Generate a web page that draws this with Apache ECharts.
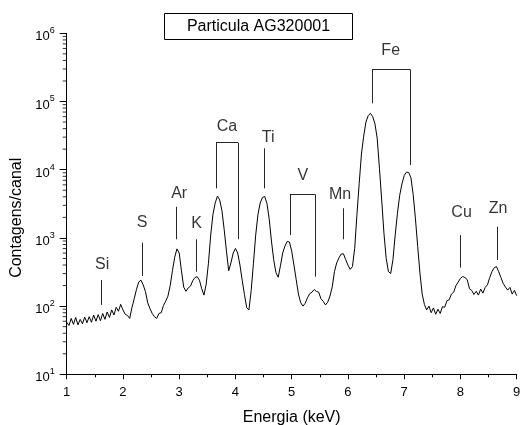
<!DOCTYPE html>
<html><head><meta charset="utf-8">
<script src="https://cdn.jsdelivr.net/npm/echarts@6/dist/echarts.min.js"></script>
<style>html,body{margin:0;padding:0;background:#fff}#c{width:521px;height:425px}</style>
</head><body><div id="c"></div>
<script>
// Spectrum: channel calibration (keV) and counts per channel
const energyStart = 1.0;
const energyStep = 0.04;
const counts = [
  58,52,66,54,68,53,64,55,69,57,70,58,74,60,75,61,78,64,82,68,88,74,96,84,106,
  88,76,73,66,95,128,175,225,240,205,163,112,92,78,70,66,78,80,102,118,140,200,330,520,690,
  600,330,190,165,185,196,235,262,270,240,180,145,210,425,1100,2200,3250,4100,3600,2500,1320,640,330,430,600,
  700,600,400,240,148,95,88,170,425,1100,2200,3250,3900,4050,3200,1900,900,480,310,265,390,600,760,890,870,
  640,400,245,150,112,100,110,132,152,160,175,164,160,128,118,104,114,140,190,320,430,510,580,585,480,
  400,345,380,700,2200,6300,17000,31000,50000,62000,67000,60000,47000,29000,10500,3600,1170,500,320,300,480,1100,2300,4200,6200,
  8200,9200,9100,7600,4300,1900,750,305,150,105,88,100,80,94,76,90,78,98,96,120,124,150,160,200,225,
  255,272,262,245,180,170,148,165,145,178,155,188,205,262,320,365,380,320,262,215,190,172,188,150,170,
  142
];
const xTicks = [1,2,3,4,5,6,7,8,9];
const yDecades = [10,100,1000,10000,100000,1000000];
const minorMultipliers = [2,3,4,5,6,7,8,9];

// Element annotations: label text, label position (keV, counts)
const peakNames  = ['Si','S','Ar','K','Ca','Ti','V','Mn','Fe','Cu','Zn'];
const peakLabelE = [1.63,2.34,3.00,3.31,3.85,4.58,5.20,5.86,6.76,8.02,8.67];
const peakLabelY = [400,1650,4400,1640,42700,29200,8100,4360,556000,2340,2720];
// Marker segments: [e1, y1, e2, y2]
const markerSegments = [
  [1.622,104,1.622,241],
  [2.344,276,2.344,851],
  [2.956,955,2.956,2860],
  [3.311,319,3.311,955],
  [3.654,5330,3.654,24900],[3.654,24900,4.045,24900],[4.045,24900,4.045,955],
  [4.508,5330,4.508,20600],
  [4.970,1100,4.970,4360],[4.970,4360,5.414,4360],[5.414,4360,5.414,270],
  [5.917,955,5.917,2720],
  [6.433,94200,6.433,296000],[6.433,296000,7.103,296000],[7.103,296000,7.103,11700],
  [7.992,366,7.992,1100],
  [8.655,474,8.655,1460]
];
const titleText = 'Particula AG320001';

const FONT = '"Liberation Sans", Arial, Helvetica, sans-serif';
const spectrum = counts.map((c, i) => [+(energyStart + i * energyStep).toFixed(2), c]);
const minorTicks = [];
yDecades.slice(0, -1).forEach(d => minorMultipliers.forEach(m => minorTicks.push([1, d * m])));

const chart = echarts.init(document.getElementById('c'), null, {renderer: 'canvas'});
chart.setOption({
  animation: false,
  backgroundColor: '#fff',
  textStyle: {fontFamily: FONT, color: '#000'},
  grid: {left: 66.7, right: 4.3, top: 33.3, bottom: 50.7, containLabel: false, outerBoundsMode: 'none'},
  graphic: [
    {type: 'rect', shape: {x: 164.5, y: 13.5, width: 188, height: 26},
     style: {fill: '#fff', stroke: '#000', lineWidth: 1}, z: 10},
    {type: 'text', x: 258.5, y: 27, z: 11,
     style: {text: titleText, font: '16px ' + FONT, fill: '#000', align: 'center', verticalAlign: 'middle'}}
  ],
  xAxis: {
    type: 'value', min: 1, max: 9, interval: 1,
    name: 'Energia (keV)', nameLocation: 'middle', nameGap: 35,
    nameTextStyle: {fontSize: 16, fontFamily: FONT, color: '#000'},
    axisLine: {show: true, onZero: false, lineStyle: {color: '#000', width: 1}},
    axisTick: {show: true, length: 5, lineStyle: {color: '#000', width: 1}},
    minorTick: {show: true, splitNumber: 2, length: 3, lineStyle: {color: '#000', width: 1}},
    axisLabel: {fontSize: 13, fontFamily: FONT, color: '#000', margin: 12,
      formatter: v => xTicks.includes(v) ? String(v) : ''},
    splitLine: {show: false}
  },
  yAxis: {
    type: 'log', logBase: 10, min: 10, max: 1000000,
    name: 'Contagens/canal', nameLocation: 'middle', nameGap: 28,
    nameTextStyle: {fontSize: 16, fontFamily: FONT, color: '#000', padding: [0, 28, 0, 0]},
    axisLine: {show: true, lineStyle: {color: '#000', width: 1}},
    axisTick: {show: true, length: 7, lineStyle: {color: '#000', width: 1}},
    axisLabel: {
      margin: 12, showMinLabel: true, showMaxLabel: true,
      formatter: v => '{b|10}{s|' + Math.round(Math.log10(v)) + '}',
      rich: {
        b: {fontSize: 13, fontFamily: FONT, color: '#000', padding: [7, 0, 0, 0], verticalAlign: 'bottom'},
        s: {fontSize: 9, fontFamily: FONT, color: '#000', padding: [3, 0, 0, 0], verticalAlign: 'top'}
      }
    },
    splitLine: {show: false}
  },
  series: [
    {
      type: 'line', data: spectrum, showSymbol: false, symbol: 'none',
      lineStyle: {color: '#000', width: 1}, itemStyle: {color: '#000'},
      silent: true, z: 3,
      markLine: {
        silent: true, symbol: ['none', 'none'], animation: false,
        label: {show: false},
        lineStyle: {color: '#000', width: 1, type: 'solid', opacity: 0.85},
        emphasis: {disabled: true},
        data: markerSegments.map(s => [{coord: [s[0], s[1]]}, {coord: [s[2], s[3]]}])
      }
    },
    {
      type: 'scatter', data: peakNames.map((n, i) => ({name: n, value: [peakLabelE[i], peakLabelY[i]]})),
      symbolSize: 0, silent: true, clip: false, z: 5,
      label: {show: true, position: 'inside', formatter: p => p.name,
        fontSize: 16, fontFamily: FONT, color: '#000'}
    },
    {
      type: 'scatter', data: minorTicks, symbol: 'rect', symbolSize: [4, 1], symbolOffset: [-2, 0],
      itemStyle: {color: '#000'}, silent: true, clip: false, z: 4
    }
  ]
});
</script>
</body></html>
